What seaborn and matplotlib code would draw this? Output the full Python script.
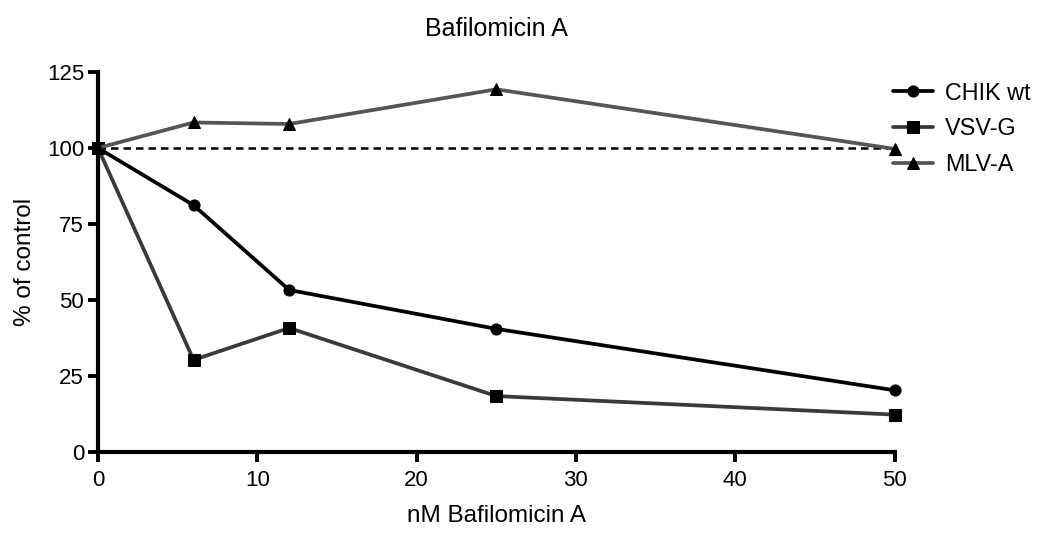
import pandas as pd
import matplotlib
matplotlib.use("Agg")
import matplotlib.pyplot as plt
import seaborn as sns

# Data
conc = [0, 6, 12, 25, 50]
chik_wt = [100, 81.2, 53.3, 40.5, 20.3]
vsv_g = [100, 30.3, 40.8, 18.4, 12.3]
mlv_a = [100, 108.4, 107.9, 119.3, 99.7]

series_names = ["CHIK wt", "VSV-G", "MLV-A"]
series_colors = ["#000000", "#3a3a3a", "#555555"]
series_markers = ["o", "s", "^"]

df = pd.DataFrame({
    "conc": conc * 3,
    "value": chik_wt + vsv_g + mlv_a,
    "series": [n for n in series_names for _ in conc],
})

sns.set_style("ticks", {"axes.edgecolor": "black", "text.color": "black",
                        "xtick.color": "black", "ytick.color": "black",
                        "axes.labelcolor": "black"})
plt.rcParams["font.family"] = ["Liberation Sans", "DejaVu Sans"]

fig = plt.figure(figsize=(10.5, 5.39), dpi=100)
ax = fig.add_axes([0.0933, 0.1614, 0.7587, 0.705])

# reference line at 100%
ax.plot([0, 50], [100, 100], color="black", linestyle=(0, (3, 2)), linewidth=1.8, zorder=1)

for name, col, mk in zip(series_names, series_colors, series_markers):
    sub = df[df["series"] == name]
    sns.lineplot(data=sub, x="conc", y="value", ax=ax, color=col, linewidth=2.7,
                 marker=mk, markersize=8, markerfacecolor="black", markeredgecolor="black",
                 label=name, clip_on=False, zorder=3)

ax.set_xlim(0, 50)
ax.set_ylim(0, 125)
ax.set_xticks([0, 10, 20, 30, 40, 50])
ax.set_yticks([0, 25, 50, 75, 100, 125])
ax.tick_params(axis="both", direction="out", length=7, width=2.8, labelsize=16, pad=3)
ax.tick_params(axis="x", pad=6)
for side in ["top", "right"]:
    ax.spines[side].set_visible(False)
for side in ["left", "bottom"]:
    ax.spines[side].set_linewidth(3)

ax.set_xlabel("nM Bafilomicin A", fontsize=17.5, labelpad=10)
ax.set_ylabel("% of control", fontsize=17.5, labelpad=8)
ax.set_title("Bafilomicin A", fontsize=18, pad=26)

leg = ax.legend(loc="upper left", bbox_to_anchor=(0.972, 1.03), frameon=False,
                fontsize=16.8, handlelength=1.7, labelspacing=0.55, handletextpad=0.5)

fig.savefig("out.png", dpi=100)
